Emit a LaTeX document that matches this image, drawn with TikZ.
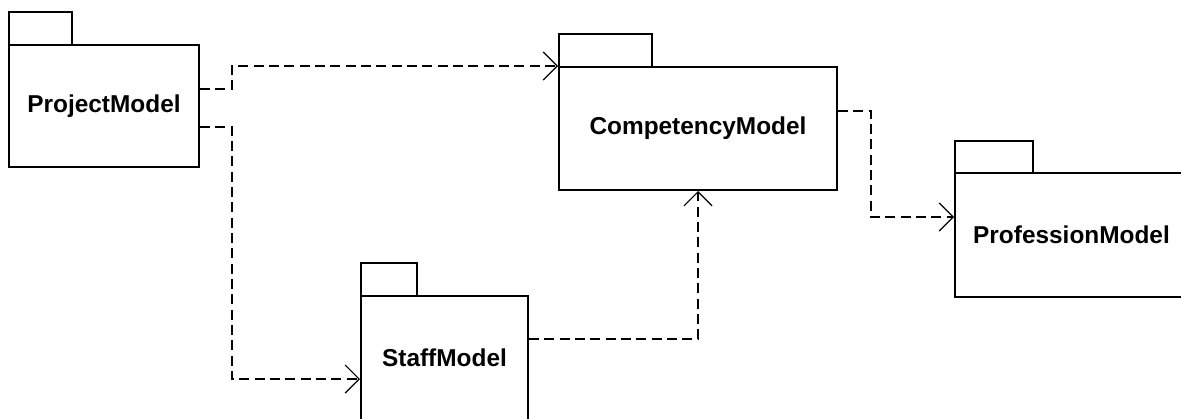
\documentclass[tikz,border=0pt]{standalone}
\usepackage{fontspec}
\setmainfont{Liberation Sans}
\usetikzlibrary{arrows.meta,calc}
\begin{document}
\begin{tikzpicture}[x=0.75pt,y=-0.75pt,
  body/.style={draw=black, line width=1.5pt, fill=white, inner sep=0pt,
    font=\fontsize{18.3}{21}\selectfont\bfseries},
  tab/.style={draw=black, line width=1.5pt, fill=white, inner sep=0pt},
  dep/.style={draw=black, line width=0.9pt, dash pattern=on 7.5pt off 4pt,
    -{Straight Barb[length=10.5pt,width=21pt,line width=0.9pt]}}]
\useasboundingbox (0,0) rectangle (1181,418);
\clip (0,0) rectangle (1181,418);
\fill[white] (0,0) rectangle (1181,418);
% ProjectModel
\node[tab, minimum width=47.25pt, minimum height=24.75pt] (Pt) at (40.5,28.5) {};
\node[body, minimum width=142.5pt, minimum height=91.5pt] (P) at (104,106) {ProjectModel};
% CompetencyModel
\node[tab, minimum width=69.75pt, minimum height=24.75pt] (Ct) at (605.5,50.5) {};
\node[body, minimum width=208.5pt, minimum height=92.25pt] (C) at (698,128.5) {CompetencyModel};
% ProfessionModel
\node[tab, minimum width=58.5pt, minimum height=24pt] (Rt) at (994,157) {};
\node[body, minimum width=174.75pt, minimum height=93pt] (R) at (1071.5,235) {ProfessionModel};
% StaffModel
\node[tab, minimum width=42pt, minimum height=24.75pt] (St) at (389,279.5) {};
\node[body, minimum width=125.25pt, minimum height=93pt] (S) at (444.5,358) {StaffModel};
% dependencies
\draw[dep] ($(P.north east)+(0,45)$) -- ++(32,0) |- (C.north west);
\draw[dep] ($(P.north east)+(0,83)$) -- ++(32,0) |- ($(S.north west)+(0,84)$);
\draw[dep] ($(S.north east)+(0,44)$) -| (C.south);
\draw[dep] ($(C.north east)+(0,45)$) -- ++(33,0) |- ($(R.north west)+(0,45)$);
\end{tikzpicture}
\end{document}
